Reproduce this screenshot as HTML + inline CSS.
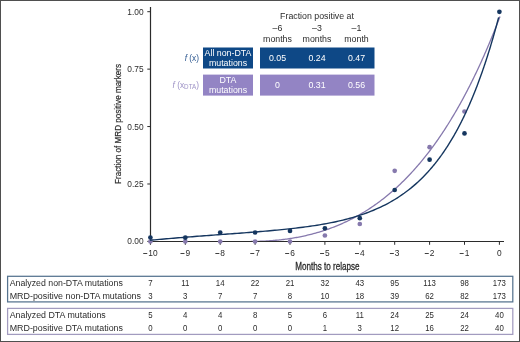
<!DOCTYPE html><html><head><meta charset="utf-8"><style>html,body{margin:0;padding:0;background:#fff;overflow:hidden}svg{display:block;will-change:transform}text{font-family:"Liberation Sans",sans-serif}</style></head><body>
<svg width="520" height="342" viewBox="0 0 520 342">
<rect x="0" y="0" width="520" height="342" fill="#fff"/>
<path d="M250.71,241.40 L251.92,241.40 L253.12,241.39 L254.32,241.38 L255.53,241.36 L256.73,241.34 L257.93,241.31 L259.14,241.28 L260.34,241.24 L261.54,241.20 L262.75,241.15 L263.95,241.10 L265.15,241.04 L266.36,240.98 L267.56,240.91 L268.76,240.84 L269.96,240.76 L271.17,240.67 L272.37,240.58 L273.57,240.48 L274.78,240.38 L275.98,240.27 L277.18,240.16 L278.39,240.04 L279.59,239.91 L280.79,239.78 L282.00,239.64 L283.20,239.50 L284.40,239.35 L285.61,239.19 L286.81,239.03 L288.01,238.86 L289.22,238.68 L290.42,238.50 L291.62,238.31 L292.83,238.12 L294.03,237.92 L295.23,237.71 L296.44,237.49 L297.64,237.27 L298.84,237.04 L300.05,236.80 L301.25,236.56 L302.45,236.31 L303.66,236.05 L304.86,235.79 L306.06,235.51 L307.27,235.24 L308.47,234.95 L309.67,234.65 L310.88,234.35 L312.08,234.04 L313.28,233.72 L314.49,233.40 L315.69,233.06 L316.89,232.72 L318.10,232.37 L319.30,232.01 L320.50,231.64 L321.71,231.27 L322.91,230.89 L324.11,230.49 L325.32,230.09 L326.52,229.68 L327.72,229.27 L328.93,228.84 L330.13,228.40 L331.33,227.96 L332.53,227.51 L333.74,227.04 L334.94,226.57 L336.14,226.09 L337.35,225.60 L338.55,225.10 L339.75,224.59 L340.96,224.07 L342.16,223.54 L343.36,223.00 L344.57,222.45 L345.77,221.89 L346.97,221.32 L348.18,220.73 L349.38,220.14 L350.58,219.54 L351.79,218.93 L352.99,218.31 L354.19,217.67 L355.40,217.03 L356.60,216.37 L357.80,215.70 L359.01,215.03 L360.21,214.34 L361.41,213.64 L362.62,212.92 L363.82,212.20 L365.02,211.46 L366.23,210.71 L367.43,209.95 L368.63,209.18 L369.84,208.40 L371.04,207.60 L372.24,206.79 L373.45,205.97 L374.65,205.13 L375.85,204.28 L377.06,203.42 L378.26,202.55 L379.46,201.66 L380.67,200.76 L381.87,199.84 L383.07,198.92 L384.28,197.97 L385.48,197.02 L386.68,196.05 L387.89,195.06 L389.09,194.06 L390.29,193.05 L391.50,192.02 L392.70,190.98 L393.90,189.92 L395.11,188.85 L396.31,187.76 L397.51,186.66 L398.71,185.54 L399.92,184.41 L401.12,183.26 L402.32,182.09 L403.53,180.91 L404.73,179.71 L405.93,178.50 L407.14,177.26 L408.34,176.02 L409.54,174.75 L410.75,173.47 L411.95,172.17 L413.15,170.85 L414.36,169.52 L415.56,168.16 L416.76,166.79 L417.97,165.41 L419.17,164.00 L420.37,162.57 L421.58,161.13 L422.78,159.67 L423.98,158.19 L425.19,156.69 L426.39,155.17 L427.59,153.63 L428.80,152.07 L430.00,150.49 L430.70,149.56 L431.17,148.94 L431.63,148.31 L432.10,147.69 L432.56,147.06 L433.03,146.43 L433.49,145.79 L433.96,145.15 L434.42,144.51 L434.89,143.86 L435.35,143.22 L435.82,142.56 L436.28,141.91 L436.75,141.25 L437.21,140.59 L437.68,139.93 L438.14,139.26 L438.61,138.59 L439.07,137.92 L439.54,137.24 L440.00,136.56 L440.47,135.88 L440.93,135.19 L441.40,134.50 L441.86,133.81 L442.33,133.11 L442.79,132.41 L443.26,131.71 L443.72,131.00 L444.19,130.29 L444.65,129.58 L445.12,128.86 L445.58,128.14 L446.05,127.42 L446.51,126.69 L446.98,125.96 L447.44,125.22 L447.91,124.49 L448.37,123.75 L448.84,123.00 L449.30,122.25 L449.77,121.50 L450.23,120.75 L450.70,119.99 L451.16,119.23 L451.63,118.46 L452.09,117.69 L452.56,116.92 L453.02,116.14 L453.49,115.36 L453.96,114.58 L454.42,113.79 L454.89,113.00 L455.35,112.21 L455.82,111.41 L456.28,110.61 L456.75,109.80 L457.21,108.99 L457.68,108.18 L458.14,107.36 L458.61,106.54 L459.07,105.72 L459.54,104.89 L460.00,104.06 L460.47,103.22 L460.93,102.38 L461.40,101.54 L461.86,100.69 L462.33,99.84 L462.79,98.99 L463.26,98.13 L463.72,97.26 L464.19,96.40 L464.65,95.53 L465.12,94.65 L465.58,93.77 L466.05,92.89 L466.51,92.00 L466.98,91.11 L467.44,90.22 L467.91,89.32 L468.37,88.41 L468.84,87.51 L469.30,86.59 L469.77,85.68 L470.23,84.76 L470.70,83.84 L471.16,82.91 L471.63,81.97 L472.09,81.04 L472.56,80.10 L473.02,79.15 L473.49,78.20 L473.95,77.25 L474.42,76.29 L474.88,75.33 L475.35,74.36 L475.81,73.39 L476.28,72.42 L476.74,71.44 L477.21,70.46 L477.68,69.47 L478.14,68.48 L478.61,67.48 L479.07,66.48 L479.54,65.47 L480.00,64.46 L480.47,63.45 L480.93,62.43 L481.40,61.40 L481.86,60.37 L482.33,59.34 L482.79,58.30 L483.26,57.26 L483.72,56.21 L484.19,55.16 L484.65,54.11 L485.12,53.05 L485.58,51.98 L486.05,50.91 L486.51,49.83 L486.98,48.76 L487.44,47.67 L487.91,46.58 L488.37,45.49 L488.84,44.39 L489.30,43.28 L489.77,42.18 L490.23,41.06 L490.70,39.94 L491.16,38.82 L491.63,37.69 L492.09,36.56 L492.56,35.42 L493.02,34.28 L493.49,33.13 L493.95,31.98 L494.42,30.82 L494.88,29.66 L495.35,28.49 L495.81,27.32 L496.28,26.14 L496.74,24.95 L497.21,23.77 L497.67,22.57 L498.14,21.37 L498.60,20.17 L499.07,18.96 L499.53,17.75 L500.00,16.53" stroke="#8679ad" stroke-width="1.3" fill="none"/>
<path d="M150.5,7 V241.5 M150,241.5 H504" stroke="#2b2b2b" stroke-width="1.2" fill="none"/>
<line x1="147.3" y1="11.70" x2="150.5" y2="11.70" stroke="#2b2b2b" stroke-width="1"/>
<text transform="translate(143.60,14.65) scale(0.95,1)" font-size="8.8" fill="#2b2b2b" text-anchor="end">1.00</text>
<line x1="147.3" y1="69.13" x2="150.5" y2="69.13" stroke="#2b2b2b" stroke-width="1"/>
<text transform="translate(143.60,72.08) scale(0.95,1)" font-size="8.8" fill="#2b2b2b" text-anchor="end">0.75</text>
<line x1="147.3" y1="126.56" x2="150.5" y2="126.56" stroke="#2b2b2b" stroke-width="1"/>
<text transform="translate(143.60,129.51) scale(0.95,1)" font-size="8.8" fill="#2b2b2b" text-anchor="end">0.50</text>
<line x1="147.3" y1="183.99" x2="150.5" y2="183.99" stroke="#2b2b2b" stroke-width="1"/>
<text transform="translate(143.60,186.94) scale(0.95,1)" font-size="8.8" fill="#2b2b2b" text-anchor="end">0.25</text>
<line x1="147.3" y1="241.42" x2="150.5" y2="241.42" stroke="#2b2b2b" stroke-width="1"/>
<text transform="translate(143.60,244.37) scale(0.95,1)" font-size="8.8" fill="#2b2b2b" text-anchor="end">0.00</text>
<line x1="150.40" y1="241.5" x2="150.40" y2="244.8" stroke="#2b2b2b" stroke-width="1"/>
<line x1="143.24" y1="253.5" x2="147.24" y2="253.5" stroke="#2b2b2b" stroke-width="0.9"/>
<text transform="translate(148.24,255.70) scale(0.93,1)" font-size="9.0" fill="#2b2b2b" text-anchor="start">10</text>
<line x1="185.30" y1="241.5" x2="185.30" y2="244.8" stroke="#2b2b2b" stroke-width="1"/>
<line x1="180.47" y1="253.5" x2="184.47" y2="253.5" stroke="#2b2b2b" stroke-width="0.9"/>
<text transform="translate(185.47,255.70) scale(0.93,1)" font-size="9.0" fill="#2b2b2b" text-anchor="start">9</text>
<line x1="220.20" y1="241.5" x2="220.20" y2="244.8" stroke="#2b2b2b" stroke-width="1"/>
<line x1="215.37" y1="253.5" x2="219.37" y2="253.5" stroke="#2b2b2b" stroke-width="0.9"/>
<text transform="translate(220.37,255.70) scale(0.93,1)" font-size="9.0" fill="#2b2b2b" text-anchor="start">8</text>
<line x1="255.10" y1="241.5" x2="255.10" y2="244.8" stroke="#2b2b2b" stroke-width="1"/>
<line x1="250.27" y1="253.5" x2="254.27" y2="253.5" stroke="#2b2b2b" stroke-width="0.9"/>
<text transform="translate(255.27,255.70) scale(0.93,1)" font-size="9.0" fill="#2b2b2b" text-anchor="start">7</text>
<line x1="290.00" y1="241.5" x2="290.00" y2="244.8" stroke="#2b2b2b" stroke-width="1"/>
<line x1="285.17" y1="253.5" x2="289.17" y2="253.5" stroke="#2b2b2b" stroke-width="0.9"/>
<text transform="translate(290.17,255.70) scale(0.93,1)" font-size="9.0" fill="#2b2b2b" text-anchor="start">6</text>
<line x1="324.90" y1="241.5" x2="324.90" y2="244.8" stroke="#2b2b2b" stroke-width="1"/>
<line x1="320.07" y1="253.5" x2="324.07" y2="253.5" stroke="#2b2b2b" stroke-width="0.9"/>
<text transform="translate(325.07,255.70) scale(0.93,1)" font-size="9.0" fill="#2b2b2b" text-anchor="start">5</text>
<line x1="359.80" y1="241.5" x2="359.80" y2="244.8" stroke="#2b2b2b" stroke-width="1"/>
<line x1="354.97" y1="253.5" x2="358.97" y2="253.5" stroke="#2b2b2b" stroke-width="0.9"/>
<text transform="translate(359.97,255.70) scale(0.93,1)" font-size="9.0" fill="#2b2b2b" text-anchor="start">4</text>
<line x1="394.70" y1="241.5" x2="394.70" y2="244.8" stroke="#2b2b2b" stroke-width="1"/>
<line x1="389.87" y1="253.5" x2="393.87" y2="253.5" stroke="#2b2b2b" stroke-width="0.9"/>
<text transform="translate(394.87,255.70) scale(0.93,1)" font-size="9.0" fill="#2b2b2b" text-anchor="start">3</text>
<line x1="429.60" y1="241.5" x2="429.60" y2="244.8" stroke="#2b2b2b" stroke-width="1"/>
<line x1="424.77" y1="253.5" x2="428.77" y2="253.5" stroke="#2b2b2b" stroke-width="0.9"/>
<text transform="translate(429.77,255.70) scale(0.93,1)" font-size="9.0" fill="#2b2b2b" text-anchor="start">2</text>
<line x1="464.50" y1="241.5" x2="464.50" y2="244.8" stroke="#2b2b2b" stroke-width="1"/>
<line x1="459.67" y1="253.5" x2="463.67" y2="253.5" stroke="#2b2b2b" stroke-width="0.9"/>
<text transform="translate(464.67,255.70) scale(0.93,1)" font-size="9.0" fill="#2b2b2b" text-anchor="start">1</text>
<line x1="499.40" y1="241.5" x2="499.40" y2="244.8" stroke="#2b2b2b" stroke-width="1"/>
<text transform="translate(499.40,255.70) scale(0.93,1)" font-size="9.0" fill="#2b2b2b" text-anchor="middle">0</text>
<circle cx="150.40" cy="241.5" r="2.35" fill="#8679ad"/>
<circle cx="185.30" cy="241.5" r="2.35" fill="#8679ad"/>
<circle cx="220.20" cy="241.5" r="2.35" fill="#8679ad"/>
<circle cx="255.10" cy="241.5" r="2.35" fill="#8679ad"/>
<circle cx="290.00" cy="241.5" r="2.35" fill="#8679ad"/>
<circle cx="324.90" cy="235.5" r="2.35" fill="#8679ad"/>
<circle cx="359.80" cy="224.0" r="2.35" fill="#8679ad"/>
<circle cx="394.70" cy="170.8" r="2.35" fill="#8679ad"/>
<circle cx="429.60" cy="147.2" r="2.35" fill="#8679ad"/>
<circle cx="464.50" cy="111.5" r="2.35" fill="#8679ad"/>
<path d="M150.00,240.27 L152.35,240.05 L154.71,239.84 L157.06,239.63 L159.41,239.41 L161.76,239.21 L164.12,239.00 L166.47,238.80 L168.82,238.59 L171.18,238.39 L173.53,238.20 L175.88,238.00 L178.24,237.81 L180.59,237.62 L182.94,237.43 L185.29,237.24 L187.65,237.05 L190.00,236.87 L192.35,236.68 L194.71,236.50 L197.06,236.32 L199.41,236.14 L201.76,235.96 L204.12,235.78 L206.47,235.61 L208.82,235.43 L211.18,235.26 L213.53,235.09 L215.88,234.91 L218.24,234.74 L220.59,234.57 L222.94,234.39 L225.29,234.22 L227.65,234.05 L230.00,233.88 L232.35,233.70 L234.71,233.53 L237.06,233.36 L239.41,233.18 L241.76,233.00 L244.12,232.83 L246.47,232.65 L248.82,232.47 L251.18,232.28 L253.53,232.10 L255.88,231.91 L258.24,231.72 L260.59,231.53 L262.94,231.33 L265.29,231.13 L267.65,230.93 L270.00,230.73 L272.35,230.51 L274.71,230.30 L277.06,230.08 L279.41,229.85 L281.76,229.62 L284.12,229.39 L286.47,229.14 L288.82,228.89 L291.18,228.63 L293.53,228.37 L295.88,228.10 L298.24,227.82 L300.59,227.53 L302.94,227.23 L305.29,226.92 L307.65,226.60 L310.00,226.27 L312.35,225.92 L314.71,225.57 L317.06,225.20 L319.41,224.82 L321.76,224.42 L324.12,224.01 L326.47,223.58 L328.82,223.14 L331.18,222.68 L333.53,222.20 L335.88,221.70 L338.24,221.18 L340.59,220.64 L342.94,220.08 L345.29,219.49 L347.65,218.88 L350.00,218.25 L352.35,217.59 L354.71,216.90 L357.06,216.18 L359.41,215.43 L361.76,214.65 L364.12,213.84 L366.47,212.99 L368.82,212.11 L371.18,211.19 L373.53,210.23 L375.88,209.23 L378.24,208.19 L380.59,207.10 L382.94,205.96 L385.29,204.78 L387.65,203.54 L390.00,202.25 L392.35,200.91 L394.71,199.51 L397.06,198.05 L399.41,196.52 L401.76,194.93 L404.12,193.28 L406.47,191.55 L408.82,189.74 L411.18,187.86 L413.53,185.90 L415.88,183.85 L418.24,181.72 L420.59,179.50 L422.94,177.18 L425.29,174.76 L427.65,172.24 L430.00,169.61 L430.70,168.80 L431.16,168.27 L431.61,167.74 L432.07,167.20 L432.52,166.66 L432.98,166.11 L433.44,165.56 L433.89,165.00 L434.35,164.44 L434.81,163.88 L435.26,163.31 L435.72,162.74 L436.17,162.16 L436.63,161.57 L437.09,160.99 L437.54,160.39 L438.00,159.80 L438.46,159.19 L438.91,158.59 L439.37,157.97 L439.82,157.36 L440.28,156.73 L440.74,156.11 L441.19,155.47 L441.65,154.84 L442.10,154.19 L442.56,153.55 L443.02,152.89 L443.47,152.24 L443.93,151.57 L444.39,150.90 L444.84,150.23 L445.30,149.55 L445.75,148.86 L446.21,148.17 L446.67,147.48 L447.12,146.77 L447.58,146.07 L448.04,145.35 L448.49,144.63 L448.95,143.91 L449.40,143.18 L449.86,142.44 L450.32,141.70 L450.77,140.95 L451.23,140.19 L451.69,139.43 L452.14,138.66 L452.60,137.89 L453.05,137.11 L453.51,136.33 L453.97,135.53 L454.42,134.74 L454.88,133.93 L455.33,133.12 L455.79,132.30 L456.25,131.48 L456.70,130.65 L457.16,129.81 L457.62,128.96 L458.07,128.11 L458.53,127.25 L458.98,126.39 L459.44,125.52 L459.90,124.64 L460.35,123.75 L460.81,122.86 L461.27,121.96 L461.72,121.05 L462.18,120.13 L462.63,119.21 L463.09,118.28 L463.55,117.34 L464.00,116.40 L464.46,115.45 L464.91,114.49 L465.37,113.52 L465.83,112.54 L466.28,111.56 L466.74,110.57 L467.20,109.57 L467.65,108.56 L468.11,107.54 L468.56,106.52 L469.02,105.49 L469.48,104.45 L469.93,103.40 L470.39,102.34 L470.85,101.28 L471.30,100.21 L471.76,99.12 L472.21,98.03 L472.67,96.93 L473.13,95.82 L473.58,94.71 L474.04,93.58 L474.50,92.44 L474.95,91.30 L475.41,90.15 L475.86,88.98 L476.32,87.81 L476.78,86.63 L477.23,85.44 L477.69,84.24 L478.14,83.03 L478.60,81.81 L479.06,80.58 L479.51,79.34 L479.97,78.09 L480.43,76.83 L480.88,75.56 L481.34,74.28 L481.79,72.99 L482.25,71.69 L482.71,70.38 L483.16,69.06 L483.62,67.73 L484.08,66.39 L484.53,65.03 L484.99,63.67 L485.44,62.30 L485.90,60.91 L486.36,59.51 L486.81,58.11 L487.27,56.69 L487.72,55.26 L488.18,53.82 L488.64,52.36 L489.09,50.90 L489.55,49.42 L490.01,47.94 L490.46,46.44 L490.92,44.92 L491.37,43.40 L491.83,41.86 L492.29,40.32 L492.74,38.76 L493.20,37.18 L493.66,35.60 L494.11,34.00 L494.57,32.39 L495.02,30.77 L495.48,29.13 L495.94,27.48 L496.39,25.82 L496.85,24.14 L497.30,22.45 L497.76,20.75 L498.22,19.04 L498.67,17.31" stroke="#15365f" stroke-width="1.4" fill="none"/>
<circle cx="150.40" cy="237.5" r="2.35" fill="#15365f"/>
<circle cx="185.30" cy="237.7" r="2.35" fill="#15365f"/>
<circle cx="220.20" cy="232.5" r="2.35" fill="#15365f"/>
<circle cx="255.10" cy="232.5" r="2.35" fill="#15365f"/>
<circle cx="290.00" cy="230.9" r="2.35" fill="#15365f"/>
<circle cx="324.90" cy="228.3" r="2.35" fill="#15365f"/>
<circle cx="359.80" cy="218.2" r="2.35" fill="#15365f"/>
<circle cx="394.70" cy="190.0" r="2.35" fill="#15365f"/>
<circle cx="429.60" cy="159.7" r="2.35" fill="#15365f"/>
<circle cx="464.50" cy="133.4" r="2.35" fill="#15365f"/>
<circle cx="499.40" cy="11.8" r="2.35" fill="#15365f"/>
<text x="295.20" y="269.90" font-size="10.4" fill="#2b2b2b" text-anchor="start" textLength="64.30" lengthAdjust="spacingAndGlyphs" stroke="#2b2b2b" stroke-width="0.3">Months to relapse</text>
<text transform="translate(120.9,183.9) rotate(-90)" font-size="9.8" fill="#2b2b2b" stroke="#2b2b2b" stroke-width="0.2" textLength="120" lengthAdjust="spacingAndGlyphs">Fraction of MRD positive markers</text>
<text x="317.00" y="19.30" font-size="8.8" fill="#2b2b2b" text-anchor="middle">Fraction positive at</text>
<text x="277.50" y="31.00" font-size="8.8" fill="#2b2b2b" text-anchor="middle">–6</text>
<text x="277.50" y="42.00" font-size="8.8" fill="#2b2b2b" text-anchor="middle">months</text>
<text x="317.00" y="31.00" font-size="8.8" fill="#2b2b2b" text-anchor="middle">–3</text>
<text x="317.00" y="42.00" font-size="8.8" fill="#2b2b2b" text-anchor="middle">months</text>
<text x="356.50" y="31.00" font-size="8.8" fill="#2b2b2b" text-anchor="middle">–1</text>
<text x="356.50" y="42.00" font-size="8.8" fill="#2b2b2b" text-anchor="middle">month</text>
<rect x="203" y="47.5" width="50" height="21" fill="#0e4886"/>
<rect x="260" y="47.5" width="114.5" height="21" fill="#0e4886"/>
<rect x="203" y="74.6" width="50" height="21" fill="#9384c4"/>
<rect x="260" y="74.6" width="114.5" height="21" fill="#9384c4"/>
<text x="228.00" y="56.00" font-size="8.8" fill="#fff" text-anchor="middle">All non-DTA</text>
<text x="228.00" y="66.20" font-size="8.8" fill="#fff" text-anchor="middle">mutations</text>
<text x="228.00" y="82.70" font-size="8.8" fill="#fff" text-anchor="middle">DTA</text>
<text x="228.00" y="93.10" font-size="8.8" fill="#fff" text-anchor="middle">mutations</text>
<text x="277.50" y="61.00" font-size="8.8" fill="#fff" text-anchor="middle">0.05</text>
<text x="277.50" y="87.60" font-size="8.8" fill="#fff" text-anchor="middle">0</text>
<text x="317.00" y="61.00" font-size="8.8" fill="#fff" text-anchor="middle">0.24</text>
<text x="317.00" y="87.60" font-size="8.8" fill="#fff" text-anchor="middle">0.31</text>
<text x="356.50" y="61.00" font-size="8.8" fill="#fff" text-anchor="middle">0.47</text>
<text x="356.50" y="87.60" font-size="8.8" fill="#fff" text-anchor="middle">0.56</text>
<text x="199" y="61" font-size="8.3" fill="#2d5890" text-anchor="end"><tspan font-style="italic">f</tspan> (x)</text>
<text x="199" y="87.8" font-size="8.3" fill="#9d92c6" text-anchor="end"><tspan font-style="italic">f</tspan> (x<tspan font-size="6.3" dy="1.6">DTA</tspan><tspan dy="-1.6">)</tspan></text>
<rect x="7.6" y="276.3" width="505.2" height="25.6" fill="none" stroke="#56738f" stroke-width="1.25"/>
<rect x="7.6" y="308.4" width="505.2" height="26" fill="none" stroke="#a29bbf" stroke-width="1.25"/>
<text x="9.70" y="285.90" font-size="8.5" fill="#2b2b2b" text-anchor="start" textLength="113.10" lengthAdjust="spacingAndGlyphs">Analyzed non-DTA mutations</text>
<text transform="translate(150.40,285.90) scale(0.88,1)" font-size="8.9" fill="#2b2b2b" text-anchor="middle">7</text>
<text transform="translate(185.30,285.90) scale(0.88,1)" font-size="8.9" fill="#2b2b2b" text-anchor="middle">11</text>
<text transform="translate(220.20,285.90) scale(0.88,1)" font-size="8.9" fill="#2b2b2b" text-anchor="middle">14</text>
<text transform="translate(255.10,285.90) scale(0.88,1)" font-size="8.9" fill="#2b2b2b" text-anchor="middle">22</text>
<text transform="translate(290.00,285.90) scale(0.88,1)" font-size="8.9" fill="#2b2b2b" text-anchor="middle">21</text>
<text transform="translate(324.90,285.90) scale(0.88,1)" font-size="8.9" fill="#2b2b2b" text-anchor="middle">32</text>
<text transform="translate(359.80,285.90) scale(0.88,1)" font-size="8.9" fill="#2b2b2b" text-anchor="middle">43</text>
<text transform="translate(394.70,285.90) scale(0.88,1)" font-size="8.9" fill="#2b2b2b" text-anchor="middle">95</text>
<text transform="translate(429.60,285.90) scale(0.88,1)" font-size="8.9" fill="#2b2b2b" text-anchor="middle">113</text>
<text transform="translate(464.50,285.90) scale(0.88,1)" font-size="8.9" fill="#2b2b2b" text-anchor="middle">98</text>
<text transform="translate(499.40,285.90) scale(0.88,1)" font-size="8.9" fill="#2b2b2b" text-anchor="middle">173</text>
<text x="9.70" y="298.60" font-size="8.5" fill="#2b2b2b" text-anchor="start" textLength="131.30" lengthAdjust="spacingAndGlyphs">MRD-positive non-DTA mutations</text>
<text transform="translate(150.40,298.60) scale(0.88,1)" font-size="8.9" fill="#2b2b2b" text-anchor="middle">3</text>
<text transform="translate(185.30,298.60) scale(0.88,1)" font-size="8.9" fill="#2b2b2b" text-anchor="middle">3</text>
<text transform="translate(220.20,298.60) scale(0.88,1)" font-size="8.9" fill="#2b2b2b" text-anchor="middle">7</text>
<text transform="translate(255.10,298.60) scale(0.88,1)" font-size="8.9" fill="#2b2b2b" text-anchor="middle">7</text>
<text transform="translate(290.00,298.60) scale(0.88,1)" font-size="8.9" fill="#2b2b2b" text-anchor="middle">8</text>
<text transform="translate(324.90,298.60) scale(0.88,1)" font-size="8.9" fill="#2b2b2b" text-anchor="middle">10</text>
<text transform="translate(359.80,298.60) scale(0.88,1)" font-size="8.9" fill="#2b2b2b" text-anchor="middle">18</text>
<text transform="translate(394.70,298.60) scale(0.88,1)" font-size="8.9" fill="#2b2b2b" text-anchor="middle">39</text>
<text transform="translate(429.60,298.60) scale(0.88,1)" font-size="8.9" fill="#2b2b2b" text-anchor="middle">62</text>
<text transform="translate(464.50,298.60) scale(0.88,1)" font-size="8.9" fill="#2b2b2b" text-anchor="middle">82</text>
<text transform="translate(499.40,298.60) scale(0.88,1)" font-size="8.9" fill="#2b2b2b" text-anchor="middle">173</text>
<text x="9.70" y="318.20" font-size="8.5" fill="#2b2b2b" text-anchor="start" textLength="96.10" lengthAdjust="spacingAndGlyphs">Analyzed DTA mutations</text>
<text transform="translate(150.40,318.20) scale(0.88,1)" font-size="8.9" fill="#2b2b2b" text-anchor="middle">5</text>
<text transform="translate(185.30,318.20) scale(0.88,1)" font-size="8.9" fill="#2b2b2b" text-anchor="middle">4</text>
<text transform="translate(220.20,318.20) scale(0.88,1)" font-size="8.9" fill="#2b2b2b" text-anchor="middle">4</text>
<text transform="translate(255.10,318.20) scale(0.88,1)" font-size="8.9" fill="#2b2b2b" text-anchor="middle">8</text>
<text transform="translate(290.00,318.20) scale(0.88,1)" font-size="8.9" fill="#2b2b2b" text-anchor="middle">5</text>
<text transform="translate(324.90,318.20) scale(0.88,1)" font-size="8.9" fill="#2b2b2b" text-anchor="middle">6</text>
<text transform="translate(359.80,318.20) scale(0.88,1)" font-size="8.9" fill="#2b2b2b" text-anchor="middle">11</text>
<text transform="translate(394.70,318.20) scale(0.88,1)" font-size="8.9" fill="#2b2b2b" text-anchor="middle">24</text>
<text transform="translate(429.60,318.20) scale(0.88,1)" font-size="8.9" fill="#2b2b2b" text-anchor="middle">25</text>
<text transform="translate(464.50,318.20) scale(0.88,1)" font-size="8.9" fill="#2b2b2b" text-anchor="middle">24</text>
<text transform="translate(499.40,318.20) scale(0.88,1)" font-size="8.9" fill="#2b2b2b" text-anchor="middle">40</text>
<text x="9.70" y="331.00" font-size="8.5" fill="#2b2b2b" text-anchor="start" textLength="113.30" lengthAdjust="spacingAndGlyphs">MRD-positive DTA mutations</text>
<text transform="translate(150.40,331.00) scale(0.88,1)" font-size="8.9" fill="#2b2b2b" text-anchor="middle">0</text>
<text transform="translate(185.30,331.00) scale(0.88,1)" font-size="8.9" fill="#2b2b2b" text-anchor="middle">0</text>
<text transform="translate(220.20,331.00) scale(0.88,1)" font-size="8.9" fill="#2b2b2b" text-anchor="middle">0</text>
<text transform="translate(255.10,331.00) scale(0.88,1)" font-size="8.9" fill="#2b2b2b" text-anchor="middle">0</text>
<text transform="translate(290.00,331.00) scale(0.88,1)" font-size="8.9" fill="#2b2b2b" text-anchor="middle">0</text>
<text transform="translate(324.90,331.00) scale(0.88,1)" font-size="8.9" fill="#2b2b2b" text-anchor="middle">1</text>
<text transform="translate(359.80,331.00) scale(0.88,1)" font-size="8.9" fill="#2b2b2b" text-anchor="middle">3</text>
<text transform="translate(394.70,331.00) scale(0.88,1)" font-size="8.9" fill="#2b2b2b" text-anchor="middle">12</text>
<text transform="translate(429.60,331.00) scale(0.88,1)" font-size="8.9" fill="#2b2b2b" text-anchor="middle">16</text>
<text transform="translate(464.50,331.00) scale(0.88,1)" font-size="8.9" fill="#2b2b2b" text-anchor="middle">22</text>
<text transform="translate(499.40,331.00) scale(0.88,1)" font-size="8.9" fill="#2b2b2b" text-anchor="middle">40</text>
<rect x="0.5" y="0.5" width="519" height="341" fill="none" stroke="#4f4f4f" stroke-width="1"/>
</svg></body></html>
